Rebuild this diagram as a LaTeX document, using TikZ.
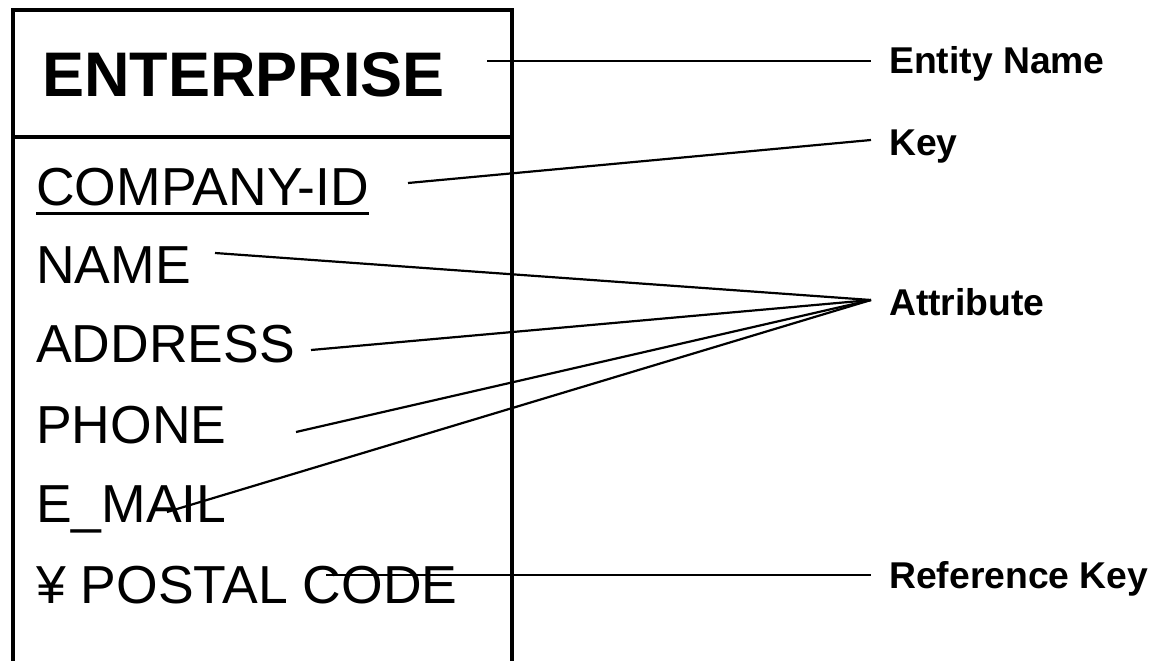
\documentclass[tikz,border=0pt]{standalone}
\usepackage{fontspec}
\setmainfont{Liberation Sans}
\begin{document}
\begin{tikzpicture}[x=1pt,y=-1pt,
  boxline/.style={line width=4pt},
  conn/.style={line width=2.2pt},
  titletext/.style={anchor=base west, inner sep=0pt, font=\fontsize{63}{63}\selectfont\bfseries},
  attr/.style={anchor=base west, inner sep=0pt, font=\fontsize{53.5}{53.5}\selectfont},
  lbl/.style={anchor=base west, inner sep=0pt, font=\fontsize{37.3}{37.3}\selectfont\bfseries}]
\useasboundingbox (0,0) rectangle (1154,661);
\clip (0,0) rectangle (1154,661);
% entity box
\draw[boxline] (13,670) -- (13,10) -- (512,10) -- (512,670);
\draw[boxline] (13,137) -- (512,137);
% texts in box
\node[titletext] (ent) at (42,96) {ENTERPRISE};
\node[attr] (cid) at (36,205) {COMPANY-ID};
\draw[line width=3pt] ([yshift=-8pt]cid.base west) -- ([yshift=-8pt]cid.base east);
\node[attr] (name) at (36,283) {NAME};
\node[attr] (addr) at (36,362) {ADDRESS};
\node[attr] (phone) at (36,443) {PHONE};
\node[attr] (email) at (36,522) {E\_MAIL};
\node[attr] (postal) at (36,603) {¥ POSTAL CODE};
% labels
\node[lbl] (lname) at (889,74) {Entity Name};
\node[lbl] (lkey) at (889,155) {Key};
\node[lbl] (lattr) at (889,315) {Attribute};
\node[lbl] (lref) at (889,588) {Reference Key};
% connector ends
\coordinate (ent-e) at (487,61);
\coordinate (lname-w) at (871,61);
\coordinate (cid-e) at (408,183);
\coordinate (lkey-w) at (871,140);
\coordinate (name-e) at (215,253);
\coordinate (addr-e) at (311,350);
\coordinate (phone-e) at (296,432);
\coordinate (email-e) at (167,512);
\coordinate (lattr-w) at (871,300);
\coordinate (postal-e) at (326,575);
\coordinate (lref-w) at (871,575);
% connectors
\draw[conn] (ent-e) -- (lname-w);
\draw[conn] (cid-e) -- (lkey-w);
\draw[conn] (name-e) -- (lattr-w);
\draw[conn] (addr-e) -- (lattr-w);
\draw[conn] (phone-e) -- (lattr-w);
\draw[conn] (email-e) -- (lattr-w);
\draw[conn] (postal-e) -- (lref-w);
\end{tikzpicture}
\end{document}
